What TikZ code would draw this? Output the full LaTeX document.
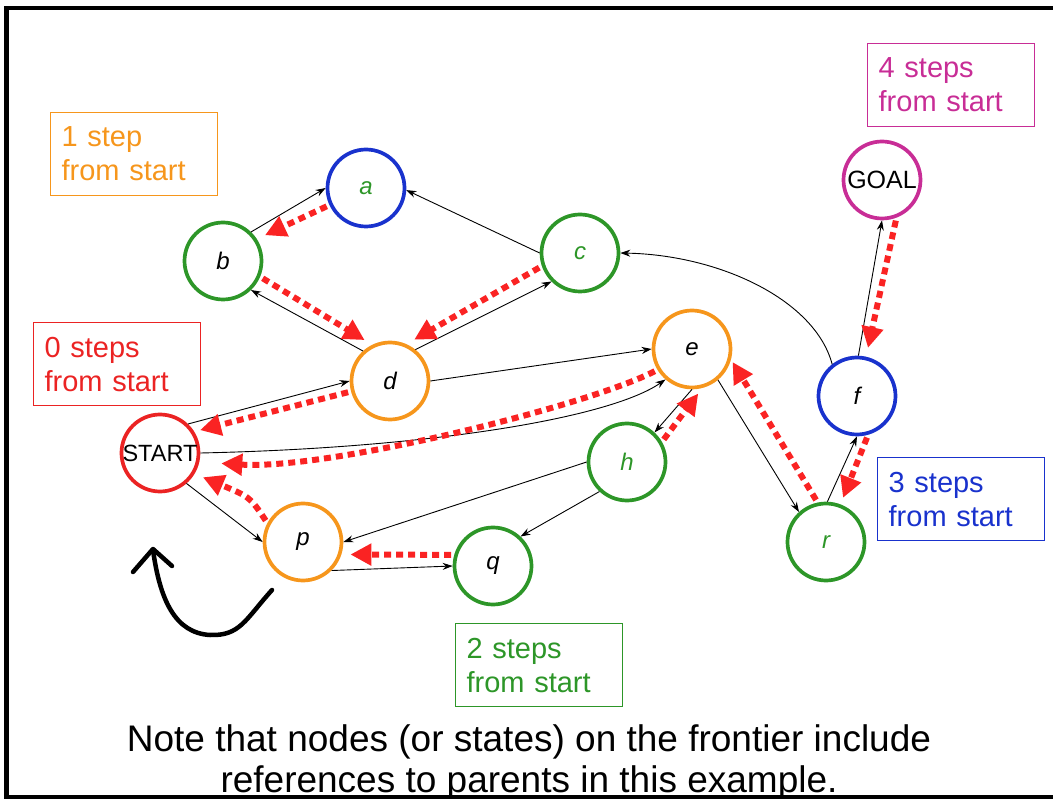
\documentclass[tikz,border=0pt]{standalone}
\usepackage{fontspec}
\setmainfont{Liberation Sans}
\usetikzlibrary{arrows.meta}

\definecolor{stateorange}{RGB}{246,150,28}
\definecolor{stategreen}{RGB}{45,150,40}
\definecolor{stateblue}{RGB}{25,50,205}
\definecolor{statemagenta}{RGB}{200,45,150}
\definecolor{statered}{RGB}{235,35,35}
\definecolor{parentred}{RGB}{250,35,35}

\begin{document}
\begin{tikzpicture}[x=1pt,y=-1pt,
  state/.style={circle, draw, line width=3.7pt, minimum size=77pt, inner sep=0pt,
    font=\fontsize{24}{24}\selectfont\itshape},
  link/.style={draw=black, line width=0.9pt, -{Stealth[length=10pt,width=7pt]}},
  parent/.style={draw=parentred, line width=6pt, dash pattern=on 7pt off 5pt,
    -{Triangle[length=21pt,width=21pt]}, shorten >=9pt, shorten <=3pt},
  stepsbox/.style={draw, line width=1.3pt, anchor=north west, minimum height=83pt,
    text width=145pt, inner xsep=11pt, align=left,
    font=\fontsize{29}{34}\selectfont},
  notetext/.style={anchor=base, inner sep=0pt, font=\fontsize{37}{41}\selectfont},
  hand/.style={line width=4.5pt, line cap=round, line join=round}
]
\useasboundingbox (0,0) rectangle (1053,799);

% states of the search graph
\node[state, draw=statered]                      (START) at (160,453) {\upshape\fontsize{23.5}{23.5}\selectfont START};
\node[state, draw=stateblue, text=stategreen]    (a)     at (366,188) {a};
\node[state, draw=stategreen]                    (b)     at (223,261) {b};
\node[state, draw=stategreen, text=stategreen]   (c)     at (580,253) {c};
\node[state, draw=stateorange]                   (d)     at (390,381) {d};
\node[state, draw=stateorange]                   (e)     at (692,349) {e};
\node[state, draw=stategreen, text=stategreen]   (h)     at (627,462) {h};
\node[state, draw=stateorange]                   (p)     at (303,542) {p};
\node[state, draw=stategreen]                    (q)     at (493,566) {q};
\node[state, draw=stateblue]                     (f)     at (857,396) {f};
\node[state, draw=stategreen, text=stategreen]   (r)     at (826,542) {r};
\node[state, draw=statemagenta]                  (GOAL)  at (882,180) {\upshape\fontsize{25}{25}\selectfont GOAL};

% edges of the state space
\draw[link] (b.46) -- (a.180);
\draw[link] (d.132) -- (b.314);
\draw[link] (c.180) -- (a.357);
\draw[link] (d.51) -- (c.225);
\draw[link] (d.0) -- (e.180);
\draw[link] (START.0) .. controls (430,448) and (610,418) .. (e.229);
\draw[link] (START.46) -- (d.180);
\draw[link] (START.311) -- (p.180);
\draw[link] (p.315) -- (q.180);
\draw[link] (h.180) -- (p.0);
\draw[link] (h.227) -- (q.47);
\draw[link] (e.270) -- (h.47);
\draw[link] (e.310) -- (r.132);
\draw[link] (r.88) -- (f.270);
\draw[link] (f.128) .. controls (815,300) and (720,255) .. (c.0);
\draw[link] (f.88) -- (GOAL.270);

% parent references kept by the frontier
\draw[parent] (a.205) -- (b.33);
\draw[parent] (b.337) -- (d.116);
\draw[parent] (c.199) -- (d.66);
\draw[parent, shorten >=6pt] (d.195) -- (START.32);
\draw[parent, shorten >=22pt] (e.211) .. controls (590,405) and (330,470) .. (START.347);
\draw[parent] (p.152) .. controls (250,497) .. (START.329);
\draw[parent, shorten >=7pt] (h.30) -- (e.285);
\draw[parent] (q.164) -- (p.342);
\draw[parent, shorten >=3pt] (r.102) -- (e.345);
\draw[parent] (GOAL.291) -- (f.77);
\draw[parent, shorten >=7pt] (f.286) -- (r.69);

% distance labels
\node[stepsbox, draw=statered, text=statered]         (zero)  at (33,322)  {0 steps\\from start};
\node[stepsbox, draw=stateorange, text=stateorange]   (one)   at (50,112)  {1 step\\from start};
\node[stepsbox, draw=stategreen, text=stategreen]     (two)   at (455,623) {2 steps\\from start};
\node[stepsbox, draw=stateblue, text=stateblue]       (three) at (877,457) {3 steps\\from start};
\node[stepsbox, draw=statemagenta, text=statemagenta] (four)  at (867,43)  {4 steps\\from start};

% hand-drawn loop arrow
\draw[hand] (272,590) .. controls (245,620) and (240,636) .. (210,635)
            .. controls (175,633) and (160,600) .. (153,550);
\draw[hand] (133,572) -- (153,549) -- (172,566);

% caption
\node[notetext] (note1) at (529,751) {Note that nodes (or states) on the frontier include};
\node[notetext] (note2) at (529,792) {references to parents in this example.};

% slide frame
\draw[line width=4.5pt] (1053,8) -- (6.5,8) -- (6.5,797) -- (1053,797);
\end{tikzpicture}
\end{document}
